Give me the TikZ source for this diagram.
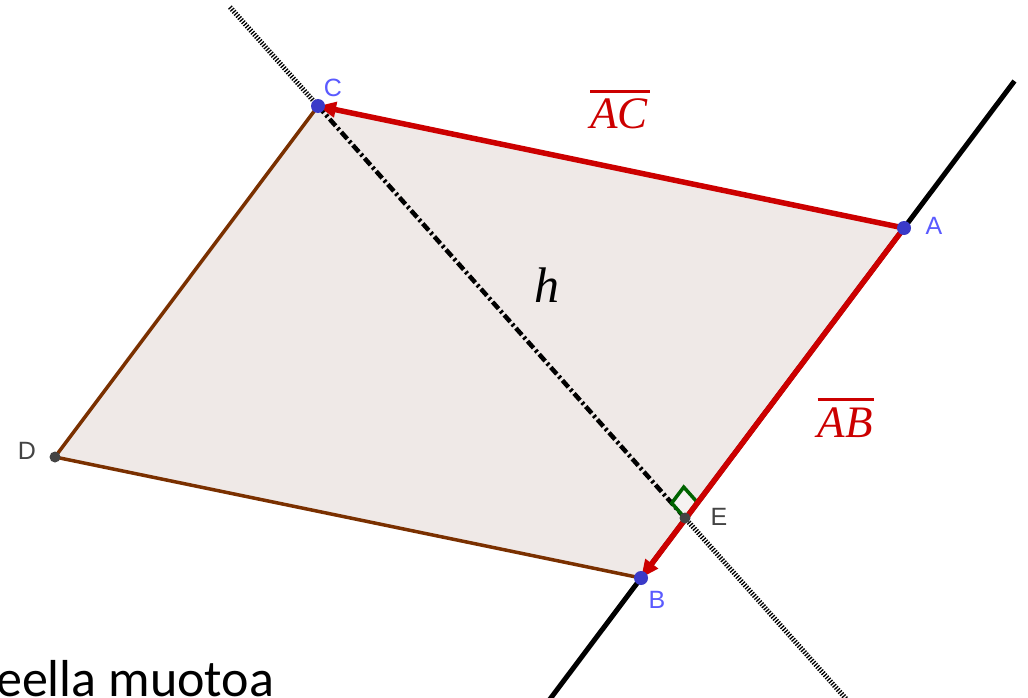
\documentclass[tikz,border=0pt]{standalone}
\usepackage{fontspec}
\usetikzlibrary{arrows.meta,calc}
\newfontfamily\lblfont{Liberation Sans}
\newfontfamily\mfont{Liberation Serif}
\newfontfamily\bodyfont{Carlito}
\definecolor{ggred}{RGB}{204,0,0}
\definecolor{ggbrown}{RGB}{122,48,0}
\definecolor{ggfill}{RGB}{239,233,231}
\definecolor{ggdot}{RGB}{58,58,200}
\definecolor{gglbl}{RGB}{90,90,255}
\definecolor{gggray}{RGB}{68,68,68}
\definecolor{gggreen}{RGB}{0,100,0}
\newcommand\myovl[1]{\vbox{\hrule height 3pt\kern 6pt\hbox{#1}}}
\tikzset{
  bluedot/.style={circle,fill=ggdot,inner sep=0pt,minimum size=14pt},
  graydot/.style={circle,fill=gggray,inner sep=0pt,minimum size=11pt},
  bluelbl/.style={text=gglbl,font=\lblfont\fontsize{25}{25}\selectfont,inner sep=0pt},
  graylbl/.style={text=gggray,font=\lblfont\fontsize{25}{25}\selectfont,inner sep=0pt},
  veclbl/.style={text=ggred,font=\mfont\itshape\fontsize{45}{45}\selectfont,inner sep=0pt,anchor=base},
  vecline/.style={draw=ggred,line width=5.5pt,-{Triangle[length=18pt,width=15pt]}},
  brownedge/.style={draw=ggbrown,line width=3.5pt},
  fullline/.style={draw=black,line width=5pt},
  dotline/.style={draw=black,line width=5pt,dash pattern=on 1.3pt off 1.5pt},
  hline/.style={draw=black,line width=4.5pt,dash pattern=on 9pt off 3pt on 2.5pt off 3pt},
}
\begin{document}
\begin{tikzpicture}[x=1pt,y=-1pt]
\useasboundingbox (0,0) rectangle (1028,698);
\fill[white] (0,0) rectangle (1028,698);
\coordinate (A) at (904,228);
\coordinate (B) at (641,578);
\coordinate (C) at (318,106);
\coordinate (D) at (55,457);
\coordinate (E) at (685,518);
\coordinate (L1) at ($(B)!1.42!(A)$);
\coordinate (L2) at ($(A)!1.36!(B)$);
\coordinate (P1) at ($(E)!1.24!(C)$);
\coordinate (P2) at ($(C)!1.44!(E)$);
% parallelogram fill
\fill[ggfill] (A) -- (C) -- (D) -- (B) -- cycle;
% perpendicular line
\draw[dotline] (P1) -- (C);
\draw[dotline] (E) -- (P2);
\draw[hline] (C) -- (E);
% line AB
\draw[fullline] (L1) -- (L2);
% brown edges
\draw[brownedge] (C) -- (D) -- (B);
% right angle marker
\draw[draw=gggreen,fill=ggfill!60!white,line width=3.5pt,line join=miter]
  (E) -- ($(E)!20pt!(C)$) -- ($($(E)!20pt!(C)$)+($(E)!20pt!(A)$)-(E)$) -- ($(E)!20pt!(A)$) -- cycle;
% vectors
\draw[vecline] (A) -- (C);
\draw[vecline] (A) -- (B);
% points
\node[bluedot] (pA) at (A) {};
\node[bluedot] (pB) at (B) {};
\node[bluedot] (pC) at (C) {};
\node[graydot] (pD) at (D) {};
\node[graydot] (pE) at (E) {};
% labels
\node[bluelbl] (lA) at (934,226) {A};
\node[bluelbl] (lB) at (657,600) {B};
\node[bluelbl] (lC) at (333,88) {C};
\node[graylbl] (lD) at (27,451) {D};
\node[graylbl] (lE) at (719,517) {E};
\node[veclbl] (lAC) at (620,129) {\myovl{AC\kern2pt}};
\node[veclbl] (lAB) at (846,437) {\myovl{AB\kern2pt}};
\node[font=\mfont\itshape\fontsize{50}{50}\selectfont,inner sep=0pt,anchor=base] (lh) at (547,302) {h};
\node[font=\bodyfont\fontsize{52}{52}\selectfont,inner sep=0pt,anchor=base west] (txt) at (-4,696) {eella muotoa};
\end{tikzpicture}
\end{document}
